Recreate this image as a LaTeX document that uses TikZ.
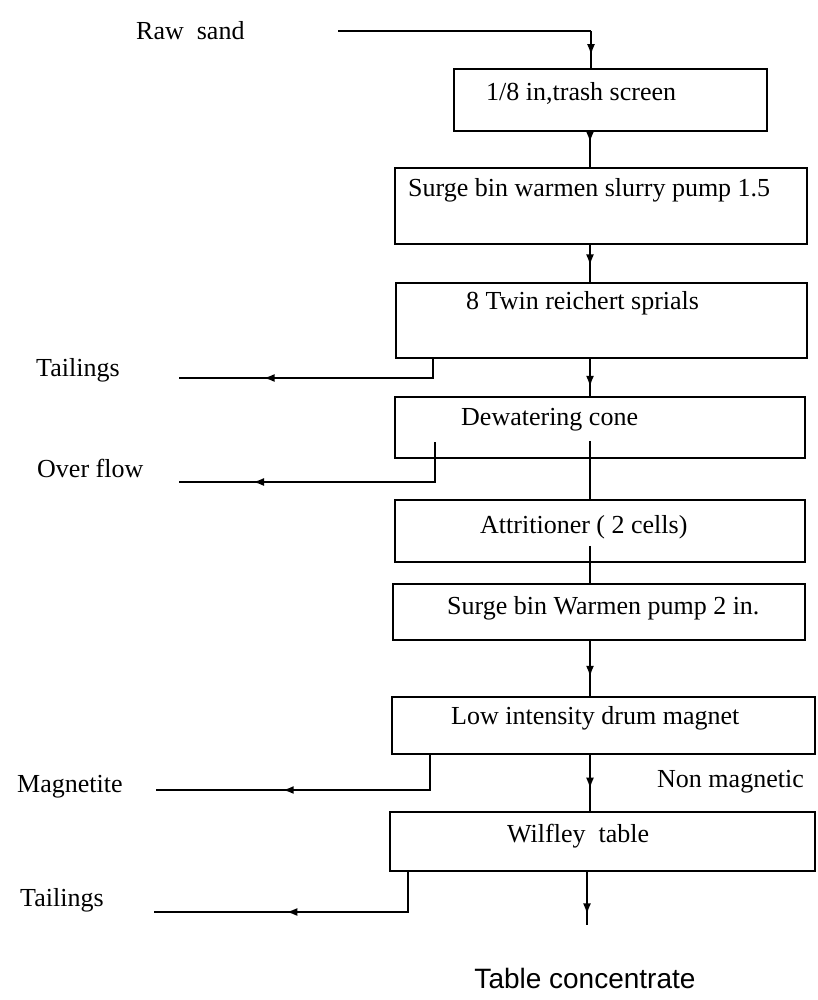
\documentclass[tikz,border=0pt]{standalone}
\usepackage{fontspec}
\setmainfont{Liberation Serif}
\newfontfamily\sansfont{Liberation Sans}
\usetikzlibrary{arrows.meta,decorations.markings,calc}
\begin{document}
\begin{tikzpicture}[x=1pt,y=-1pt,
  box/.style={draw,line width=1.8pt,inner sep=0pt,rectangle},
  lbl/.style={anchor=west,inner sep=0pt,font=\fontsize{26}{30}\selectfont},
  flow/.style={line width=1.7pt},
  midarrow/.style={postaction={decorate},decoration={markings,mark=at position #1 with {\arrow{Latex[length=11pt,width=8pt]}}}},
]
\useasboundingbox (0,0) rectangle (817,1000);
% boxes
\node[box,minimum width=313pt,minimum height=62pt] (b1) at (610.5,100) {};
\node[box,minimum width=412pt,minimum height=76pt] (b2) at (601,206) {};
\node[box,minimum width=411pt,minimum height=75pt] (b3) at (601.5,320.5) {};
\node[box,minimum width=410pt,minimum height=61pt] (b4) at (600,427.5) {};
\node[box,minimum width=410pt,minimum height=62pt] (b5) at (600,531) {};
\node[box,minimum width=412pt,minimum height=56pt] (b6) at (599,612) {};
\node[box,minimum width=423pt,minimum height=57pt] (b7) at (603.5,725.5) {};
\node[box,minimum width=425pt,minimum height=59pt] (b8) at (602.5,841.5) {};
% box texts
\node[lbl] (t1) at (486,93) {1/8 in,trash screen};
\node[lbl] (t2) at (408,190) {Surge bin warmen slurry pump 1.5};
\node[lbl] (t3) at (466,303) {8 Twin reichert sprials};
\node[lbl] (t4) at (461,420) {Dewatering cone};
\node[lbl] (t5) at (480,527) {Attritioner ( 2 cells)};
\node[lbl] (t6) at (447,608) {Surge bin Warmen pump 2 in.};
\node[lbl] (t7) at (451,718) {Low intensity drum magnet};
\node[lbl] (t8) at (507,836) {Wilfley\ \ table};
% outside labels
\node[lbl] (raw) at (136,31) {Raw\ \ sand};
\node[lbl] (tail1) at (36,370) {Tailings};
\node[lbl] (over) at (37,468) {Over flow};
\node[lbl] (mag) at (17,787) {Magnetite};
\node[lbl] (nonmag) at (657,782) {Non magnetic};
\node[lbl] (tail2) at (20,900) {Tailings};
\node[inner sep=0pt,font=\sansfont\fontsize{28}{32}\selectfont] (conc) at (585,978) {Table concentrate};
% coordinates
\coordinate (m) at (590,0);
\coordinate (rs) at (338,31);
\coordinate (rc) at (591,31);
\coordinate (tx1) at (433,0);
\coordinate (tl1) at (179,378);
\coordinate (tx2) at (435,442);
\coordinate (ol) at (179,482);
\coordinate (tx3) at (430,0);
\coordinate (ml) at (156,790);
\coordinate (tx4) at (408,0);
\coordinate (tl2) at (154,912);
\coordinate (cend) at (587,925);
% main flow
\draw[flow] (rs) -- (rc);
\draw[flow,midarrow=0.65] (rc) -- (b1.north -| rc);
\draw[flow,midarrow=0.3] (b1.south -| m) -- (b2.north -| m);
\draw[flow,midarrow=0.55] (b2.south -| m) -- (b3.north -| m);
\draw[flow,midarrow=0.75] (b3.south -| m) -- (b4.north -| m);
\draw[flow] ($(b4.south -| m)+(0,-18)$) -- (b5.north -| m);
\draw[flow] ($(b5.south -| m)+(0,-17)$) -- (b6.north -| m);
\draw[flow,midarrow=0.65] (b6.south -| m) -- (b7.north -| m);
\draw[flow,midarrow=0.6] (b7.south -| m) -- (b8.north -| m);
\draw[flow,midarrow=0.8] (b8.south -| cend) -- (cend);
% side streams
\draw[flow,midarrow=0.69] (b3.south -| tx1) |- (tl1);
\draw[flow,midarrow=0.75] (tx2) |- (ol);
\draw[flow,midarrow=0.59] (b7.south -| tx3) |- (ml);
\draw[flow,midarrow=0.55] (b8.south -| tx4) |- (tl2);
\end{tikzpicture}
\end{document}
